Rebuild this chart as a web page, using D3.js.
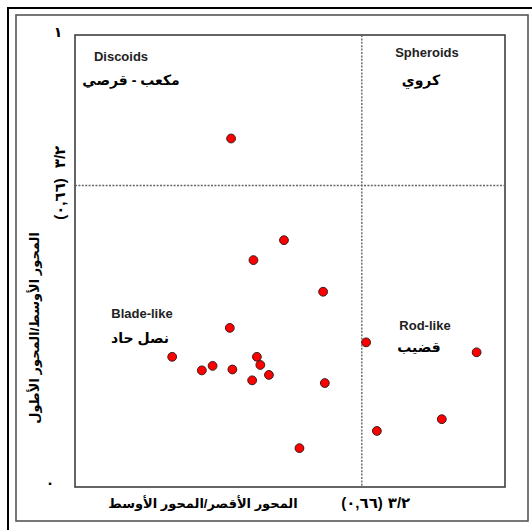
<!DOCTYPE html>
<html>
<head>
<meta charset="utf-8">
<script src="https://cdn.jsdelivr.net/npm/d3@7"></script>
<style>
  body { margin: 0; background: #fff; }
  svg { display: block; }
  text { font-family: Arial, "Liberation Sans", "DejaVu Sans", sans-serif; }
</style>
</head>
<body>
<svg id="chart" width="532" height="530"></svg>
<script>
// Axis ratios per sample: shortest/intermediate (x) and intermediate/longest (y)
const ratioSI = [0.363, 0.486, 0.415, 0.577, 0.360, 0.677, 0.934, 0.226, 0.423, 0.431,
                 0.320, 0.295, 0.366, 0.451, 0.412, 0.581, 0.853, 0.702, 0.522];
const ratioIL = [0.771, 0.546, 0.502, 0.432, 0.352, 0.320, 0.298, 0.288, 0.288, 0.270,
                 0.268, 0.258, 0.260, 0.248, 0.236, 0.230, 0.150, 0.124, 0.086];
const threshold = 0.667;           // 2/3 class boundary
const classNames = ["Discoids", "Spheroids", "Blade-like", "Rod-like"];
const classNamesAr = ["مكعب - قرصي", "كروي", "نصل حاد", "قضيب"];
const xTitle = "المحور الأقصر/المحور الأوسط";
const yTitle = "المحور الأوسط/المحور الأطول";
const thresholdLabel = ["٣/٢", "(٠,٦٦)"];
const yTickLabels = ["٠", "١"];

const svg = d3.select("#chart");
const plot = { left: 75, top: 35, right: 505, bottom: 487 };

const x = d3.scaleLinear().domain([0, 1]).range([plot.left, plot.right]);
const y = d3.scaleLinear().domain([0, 1]).range([plot.bottom, plot.top]);

// Frames
svg.append("rect").attr("x", 8).attr("y", 8).attr("width", 540).attr("height", 540)
  .attr("fill", "none").attr("stroke", "#000").attr("stroke-width", 2);
svg.append("rect").attr("x", 16).attr("y", 15).attr("width", 512).attr("height", 506)
  .attr("fill", "none").attr("stroke", "#555").attr("stroke-width", 1.6);

// Plot box
svg.append("rect").attr("x", x(0)).attr("y", y(1))
  .attr("width", x(1) - x(0)).attr("height", y(0) - y(1))
  .attr("fill", "none").attr("stroke", "#333").attr("stroke-width", 1.5);

// Class boundaries
svg.append("line")
  .attr("x1", x(threshold)).attr("x2", x(threshold))
  .attr("y1", y(1)).attr("y2", y(0))
  .attr("stroke", "#666").attr("stroke-width", 1.4).attr("stroke-dasharray", "2,1.4");
svg.append("line")
  .attr("x1", x(0)).attr("x2", x(1))
  .attr("y1", y(threshold)).attr("y2", y(threshold))
  .attr("stroke", "#666").attr("stroke-width", 1.4).attr("stroke-dasharray", "2,1.4");

// Y tick labels (0 and 1)
svg.append("text").attr("x", 50).attr("y", y(0) + 1).attr("text-anchor", "middle")
  .attr("font-size", 14).attr("font-weight", "bold").text(yTickLabels[0]);
svg.append("text").attr("x", 58).attr("y", y(1) + 2).attr("text-anchor", "middle")
  .attr("font-size", 14).attr("font-weight", "bold").text(yTickLabels[1]);

// Class names
const names = [
  { en: classNames[0], ar: classNamesAr[0], ex: 121, ax: 131, ey: 61, ay: 85 },
  { en: classNames[1], ar: classNamesAr[1], ex: 427, ax: 421, ey: 57, ay: 85 },
  { en: classNames[2], ar: classNamesAr[2], ex: 142, ax: 140, ey: 318, ay: 343 },
  { en: classNames[3], ar: classNamesAr[3], ex: 425, ax: 419, ey: 330, ay: 352 }
];
const ng = svg.append("g");
ng.selectAll("text.en").data(names).join("text").attr("class", "en")
  .attr("x", d => d.ex).attr("y", d => d.ey).attr("text-anchor", "middle")
  .attr("font-size", 13).attr("font-weight", "bold").attr("fill", "#222")
  .text(d => d.en);
ng.selectAll("text.ar").data(names).join("text").attr("class", "ar")
  .attr("x", d => d.ax).attr("y", d => d.ay).attr("text-anchor", "middle")
  .attr("font-size", 14).attr("font-weight", "bold").attr("fill", "#000")
  .text(d => d.ar);

// Axis titles
svg.append("text").attr("x", 203).attr("y", 508).attr("text-anchor", "middle")
  .attr("direction", "rtl").attr("font-size", 13).attr("font-weight", "bold")
  .text(xTitle);
svg.append("text").attr("x", 399).attr("y", 508).attr("text-anchor", "middle")
  .attr("font-size", 15).attr("font-weight", "bold").text(thresholdLabel[0]);
svg.append("text").attr("x", 362).attr("y", 508).attr("text-anchor", "middle")
  .attr("font-size", 15).attr("font-weight", "bold").text(thresholdLabel[1]);

svg.append("text")
  .attr("transform", `translate(39,${328}) rotate(-90)`)
  .attr("text-anchor", "middle").attr("direction", "rtl")
  .attr("font-size", 13).attr("font-weight", "bold").text(yTitle);
svg.append("text")
  .attr("transform", `translate(65,${157}) rotate(-90)`)
  .attr("text-anchor", "middle")
  .attr("font-size", 15).attr("font-weight", "bold").text(thresholdLabel[0]);
svg.append("text")
  .attr("transform", `translate(65,${199}) rotate(-90)`)
  .attr("text-anchor", "middle")
  .attr("font-size", 15).attr("font-weight", "bold").text(thresholdLabel[1]);

// Samples
const pts = ratioSI.map((v, i) => ({ x: v, y: ratioIL[i] }));
svg.append("g").selectAll("circle").data(pts).join("circle")
  .attr("cx", d => x(d.x)).attr("cy", d => y(d.y)).attr("r", 4.4)
  .attr("fill", "#ff0000").attr("stroke", "#3a1a1a").attr("stroke-width", 1);
</script>
</body>
</html>
